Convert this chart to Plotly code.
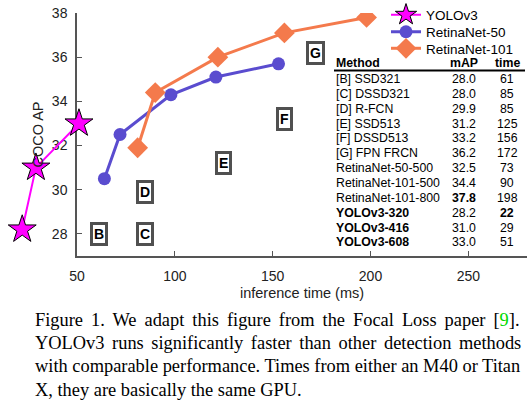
import plotly.graph_objects as go

W, H = 530, 405

# ---------------- data ----------------
yolo_time = [22, 29, 51]
yolo_map = [28.2, 31.0, 33.0]
r50_time = [64, 72, 98, 121, 153]
r50_map = [30.5, 32.5, 34.3, 35.1, 35.7]
r101_time = [81, 90, 122, 156, 198]
r101_map = [31.9, 34.4, 36.0, 37.1, 37.8]

other_labels = ["B", "C", "D", "E", "F", "G"]
other_time = [61, 85, 85, 125, 156, 172]
other_map = [28.0, 28.0, 29.9, 31.2, 33.2, 36.2]

table_methods = ["[B] SSD321", "[C] DSSD321", "[D] R-FCN", "[E] SSD513", "[F] DSSD513",
                 "[G] FPN FRCN", "RetinaNet-50-500", "RetinaNet-101-500", "RetinaNet-101-800",
                 "YOLOv3-320", "YOLOv3-416", "YOLOv3-608"]
table_map = ["28.0", "28.0", "29.9", "31.2", "33.2", "36.2", "32.5", "34.4", "37.8",
             "28.2", "31.0", "33.0"]
table_time = ["61", "85", "85", "125", "156", "172", "73", "90", "198", "22", "29", "51"]
bold_method = [False] * 9 + [True] * 3
bold_map = [False] * 8 + [True] + [False] * 3
bold_time = [False] * 9 + [True] + [False] * 2

x_ticks = [50, 100, 150, 200, 250]
y_ticks = [28, 30, 32, 34, 36, 38]

caption_lines = [
    "Figure 1. We adapt this figure from the Focal Loss paper [<span style='color:#00d800'>9</span>].",
    "YOLOv3 runs significantly faster than other detection methods",
    "with comparable performance. Times from either an M40 or Titan",
    "X, they are basically the same GPU.",
]
caption_spacing = [3.4, 3.0, 0.0, 0.0]

# ---------------- layout helpers ----------------
SANS = "Liberation Sans, Arial, sans-serif"
SERIF = "Liberation Serif, Times New Roman, serif"
X0, X1 = 77, 527      # plot area in pixels
Y0, Y1 = 13, 256
XR = [50, 280]
YR = [27, 38]


def px(x):
    return x / W


def py(y):
    return 1 - y / H


k = (X1 - X0) / (XR[1] - XR[0])
X2START = 8
xr2 = [XR[0] - (X0 - X2START) / k, XR[1]]

BLUE = "#5a4ccf"
ORANGE = "#f47a4c"
MAG = "#ff00ff"

fig = go.Figure()

fig.add_trace(go.Scatter(
    x=r50_time, y=r50_map, name="RetinaNet-50", mode="lines+markers",
    line=dict(color=BLUE, width=3), marker=dict(symbol="circle", size=13, color=BLUE),
    xaxis="x", yaxis="y", legend="legend2"))
fig.add_trace(go.Scatter(
    x=r101_time, y=r101_map, name="RetinaNet-101", mode="lines+markers",
    line=dict(color=ORANGE, width=3), marker=dict(symbol="diamond", size=16, color=ORANGE),
    xaxis="x", yaxis="y", legend="legend3"))
fig.add_trace(go.Scatter(
    x=yolo_time, y=yolo_map, name="YOLOv3", mode="lines+markers",
    line=dict(color=MAG, width=2),
    marker=dict(symbol="star", size=21, color=MAG, line=dict(color="black", width=1)),
    xaxis="x2", yaxis="y", cliponaxis=False, legend="legend"))

annotations = []
# box labels for other methods
for lab, t, m in zip(other_labels, other_time, other_map):
    annotations.append(dict(
        x=t, y=m, xref="x", yref="y", text=f"<b>{lab}</b>", showarrow=False,
        font=dict(family=SANS, size=14, color="black"),
        bgcolor="white", bordercolor="#505050", borderwidth=3, borderpad=1,
        xanchor="center", yanchor="middle"))

# table
COL_M, COL_A, COL_T = 334, 464, 507
HEAD_Y = 63
ROW0 = 79
ROWH = 14.85
TFS = 12.3


def bt(s, b):
    return f"<b>{s}</b>" if b else s


for text, x, anc in [("Method", COL_M, "left"), ("mAP", COL_A, "center"), ("time", COL_T, "center")]:
    annotations.append(dict(x=px(x), y=py(HEAD_Y), xref="paper", yref="paper",
                            text=f"<b>{text}</b>", showarrow=False, xanchor=anc, yanchor="middle",
                            font=dict(family=SANS, size=TFS, color="black")))
for i, (m, a, t) in enumerate(zip(table_methods, table_map, table_time)):
    yy = py(ROW0 + i * ROWH)
    annotations.append(dict(x=px(COL_M), y=yy, xref="paper", yref="paper", text=bt(m, bold_method[i]),
                            showarrow=False, xanchor="left", yanchor="middle",
                            font=dict(family=SANS, size=TFS, color="black")))
    annotations.append(dict(x=px(COL_A), y=yy, xref="paper", yref="paper", text=bt(a, bold_map[i]),
                            showarrow=False, xanchor="center", yanchor="middle",
                            font=dict(family=SANS, size=TFS, color="black")))
    annotations.append(dict(x=px(COL_T), y=yy, xref="paper", yref="paper", text=bt(t, bold_time[i]),
                            showarrow=False, xanchor="center", yanchor="middle",
                            font=dict(family=SANS, size=TFS, color="black")))

# caption
CAP_Y0 = 320
CAP_DY = 23.2
for i, (line, sp) in enumerate(zip(caption_lines, caption_spacing)):
    annotations.append(dict(
        x=px(33), y=py(CAP_Y0 + i * CAP_DY), xref="paper", yref="paper",
        text=f"<span style='word-spacing:{sp}px'>{line}</span>", showarrow=False,
        xanchor="left", yanchor="middle",
        font=dict(family=SERIF, size=18.4, color="black")))

shapes = [dict(type="line", xref="paper", yref="paper", x0=px(COL_M), x1=px(525),
               y0=py(70.5), y1=py(70.5), line=dict(color="black", width=2))]


def legend_at(yc):
    return dict(x=px(386), y=py(yc), xanchor="left", yanchor="middle",
                font=dict(family=SANS, size=13.5, color="black"),
                bgcolor="rgba(0,0,0,0)", borderwidth=0)


fig.update_layout(
    width=W, height=H,
    margin=dict(l=0, r=0, t=0, b=0, pad=0, autoexpand=False),
    paper_bgcolor="white", plot_bgcolor="rgba(0,0,0,0)",
    showlegend=True,
    legend=legend_at(15),
    legend2=legend_at(32),
    legend3=legend_at(48.5),
    xaxis=dict(domain=[px(X0), px(X1)], range=XR, showgrid=False, zeroline=False,
               showline=True, linecolor="#555555", linewidth=1.5, automargin=False,
               ticks="inside", ticklen=5, tickcolor="#555555", tickwidth=1,
               tickvals=x_ticks, ticktext=[str(v) for v in x_ticks],
               tickfont=dict(family=SANS, size=14, color="#222222"), ticklabelstandoff=6,
               title=dict(text="inference time (ms)", font=dict(family=SANS, size=14.5, color="#222222"),
                          standoff=5),
               anchor="y"),
    xaxis2=dict(domain=[px(X2START), px(X1)], range=xr2, visible=False, anchor="y", automargin=False),
    yaxis=dict(domain=[1 - Y1 / H, 1 - Y0 / H], range=YR, showgrid=False, zeroline=False,
               showline=True, linecolor="#555555", linewidth=1.5, automargin=False,
               ticks="inside", ticklen=5, tickcolor="#555555", tickwidth=1,
               tickvals=y_ticks, ticktext=[str(v) for v in y_ticks],
               tickfont=dict(family=SANS, size=14, color="#222222"), ticklabelstandoff=5,
               title=dict(text="COCO AP", font=dict(family=SANS, size=14.5, color="#222222"),
                          standoff=5),
               anchor="x"),
    annotations=annotations,
    shapes=shapes,
)

fig.write_html("out.html", config={"displayModeBar": False},
               post_script="document.body.style.margin='0px';")
